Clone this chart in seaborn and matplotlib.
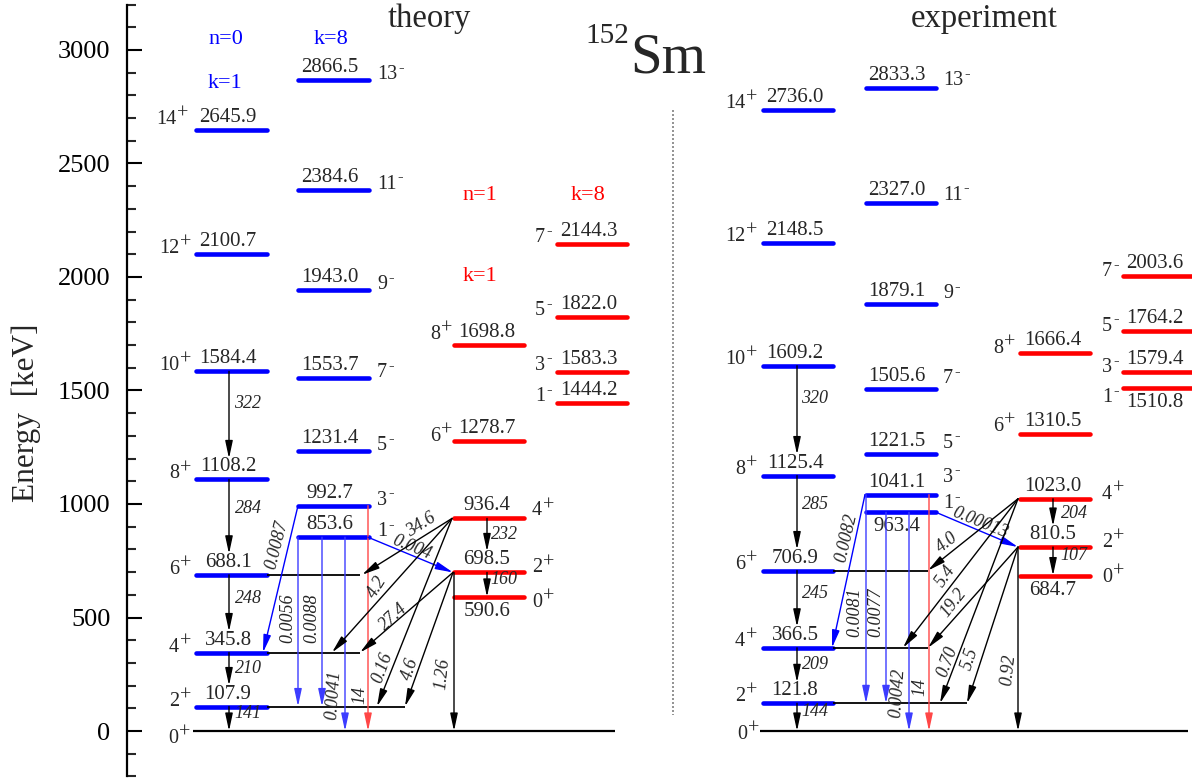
import numpy as np
import pandas as pd
import seaborn as sns
import matplotlib.pyplot as plt

# level energies [keV] and spins, theory
th_gsb = [107.9, 345.8, 688.1, 1108.2, 1584.4, 2100.7, 2645.9]
th_gsb_spin = ['2+', '4+', '6+', '8+', '10+', '12+', '14+']
th_k8 = [853.6, 992.7, 1231.4, 1553.7, 1943.0, 2384.6, 2866.5]
th_k8_spin = ['1-', '3-', '5-', '7-', '9-', '11-', '13-']
th_n1 = [590.6, 698.5, 936.4, 1278.7, 1698.8]
th_n1_spin = ['0+', '2+', '4+', '6+', '8+']
th_n1k8 = [1444.2, 1583.3, 1822.0, 2144.3]
th_n1k8_spin = ['1-', '3-', '5-', '7-']

# experiment
ex_gsb = [121.8, 366.5, 706.9, 1125.4, 1609.2, 2148.5, 2736.0]
ex_gsb_spin = th_gsb_spin
ex_k8 = [963.4, 1041.1, 1221.5, 1505.6, 1879.1, 2327.0, 2833.3]
ex_k8_spin = th_k8_spin
ex_n1 = [684.7, 810.5, 1023.0, 1310.5, 1666.4]
ex_n1_spin = th_n1_spin
ex_n1k8 = [1510.8, 1579.4, 1764.2, 2003.6]
ex_n1k8_spin = th_n1k8_spin

# in-band gamma energies (lowest first)
th_gsb_gamma = ['141', '210', '248', '284', '322']
ex_gsb_gamma = ['144', '209', '245', '285', '320']
th_n1_gamma = ['160', '232']
ex_n1_gamma = ['107', '204']

# inter-band transition strengths
th_blue = ['0.0087', '0.0056', '0.0088', '0.0041', '0.004']
th_red = ['14']
th_black = ['34.6', '4.2', '0.16', '27.4', '4.6', '1.26']
ex_blue = ['0.0082', '0.0081', '0.0077', '0.0042', '0.00013']
ex_red = ['14']
ex_black = ['4.0', '5.4', '0.70', '19.2', '5.5', '0.92']

# ---- layout (pixel based x axis, keV y axis) ----
PXK = 0.227     # pixels per keV
Y0 = 731        # pixel row of 0 keV


def ey(py):
    # pixel row -> keV (only for text placement)
    return (Y0 - py) / PXK


BLUE = '#0000ff'
RED = '#ff0000'
LB = '#3c3cff'
LR = '#ff4646'

sns.set_theme(style='white')
plt.rcParams['font.family'] = ['Liberation Serif', 'DejaVu Serif']

fig = plt.figure(figsize=(11.92, 7.82), dpi=100)
ax = fig.add_axes([0, 0, 1, 1])
ax.set_xlim(0, 1192)
ax.set_ylim(ey(782), ey(0))

# columns: energies, spins, x-range, colour, energy label centre,
# spin label (x of number edge, side, baseline shift px), levels labelled below
columns = [
    dict(E=th_gsb, J=th_gsb_spin, x=(196, 267), c=BLUE, ex=228,
         spin=[(179, 'right', 1)] * 6 + [(176, 'right', 6)], below=[]),
    dict(E=th_k8, J=th_k8_spin, x=(298, 369), c=BLUE, ex=330,
         spin=[(377, 'left', 1)] * 7, below=[]),
    dict(E=th_n1, J=th_n1_spin, x=(454, 524), c=RED, ex=487,
         spin=[(532, 'left', -10), (532, 'left', 0), (532, 'left', 3),
               (440, 'right', 0), (440, 'right', 6)], below=[0]),
    dict(E=th_n1k8, J=th_n1k8_spin, x=(557, 627), c=RED, ex=589,
         spin=[(545, 'right', 2)] * 4, below=[]),
    dict(E=ex_gsb, J=ex_gsb_spin, x=(763, 833), c=BLUE, ex=795,
         spin=[(745, 'right', 2)] * 7, below=[]),
    dict(E=ex_k8, J=ex_k8_spin, x=(866, 936), c=BLUE, ex=897,
         spin=[(943, 'left', 4), (943, 'left', 13), (943, 'left', 6),
               (943, 'left', 6), (943, 'left', 6), (943, 'left', 3),
               (943, 'left', 3)], below=[0]),
    dict(E=ex_n1, J=ex_n1_spin, x=(1020, 1090), c=RED, ex=1053,
         spin=[(1102, 'left', -6), (1102, 'left', 0), (1102, 'left', 0),
               (1003, 'right', 3), (1003, 'right', 0)], below=[0]),
    dict(E=ex_n1k8, J=ex_n1k8_spin, x=(1123, 1198), c=RED, ex=1155,
         spin=[(1112, 'right', -14)] + [(1112, 'right', 0)] * 3, below=[0]),
]

# level lines via seaborn
rows = []
for ci, col in enumerate(columns):
    for li, E in enumerate(col['E']):
        for xx in col['x']:
            rows.append(dict(x=xx, E=E, unit=f'{ci}_{li}', c=col['c']))
levels = pd.DataFrame(rows)
sns.lineplot(data=levels, x='x', y='E', units='unit', hue='c',
             palette={BLUE: BLUE, RED: RED}, estimator=None, sort=False,
             legend=False, linewidth=3.3, solid_capstyle='round', ax=ax)


def spin_label(J, x, E, ha, dy):
    num = ax.annotate(J[:-1], (x, E), xytext=(0, dy), textcoords='offset pixels',
                      ha=ha, va='baseline', fontsize=14.5)
    if J[-1] == '+':
        ax.annotate('+', xy=(1, 0.78), xycoords=num, xytext=(1, 0),
                    textcoords='offset pixels', ha='left', va='center', fontsize=14.5)
    else:
        ax.annotate('-', xy=(1, 0.85), xycoords=num, xytext=(1, 0),
                    textcoords='offset pixels', ha='left', va='center', fontsize=12)


for col in columns:
    for li, (E, J) in enumerate(zip(col['E'], col['J'])):
        dy = -19 if li in col['below'] else 8
        ax.annotate(f'{E:.1f}', (col['ex'], E), xytext=(0, dy),
                    textcoords='offset pixels', ha='center',
                    va='baseline', fontsize=15)
        sx, ha, sdy = col['spin'][li]
        spin_label(J, sx, E, ha, sdy)

# ground states and horizontal feeding lines
ax.hlines(0, 193, 615, color='black', lw=1.6)
ax.hlines(0, 760, 1188, color='black', lw=1.6)
spin_label('0+', 178, 0, 'right', -12)
spin_label('0+', 747, 0, 'right', -8)
ax.hlines([th_gsb[2], th_gsb[1], th_gsb[0]], 267, [360, 360, 405], color='black', lw=1.3)
ax.hlines([ex_gsb[2], ex_gsb[1], ex_gsb[0]], 833, [928, 928, 967], color='black', lw=1.3)


def arrow(x0, e0, x1, e1, color='black', lw=1.0):
    ax.annotate('', xy=(x1, e1), xytext=(x0, e0),
                arrowprops=dict(arrowstyle='-|>,head_length=0.7,head_width=0.15',
                                color=color, lw=lw, shrinkA=0, shrinkB=0,
                                mutation_scale=15))


def tlabel(px, py, s, rot=0, size=13):
    ax.text(px, ey(py), s, rotation=rot, rotation_mode='anchor', ha='center',
            va='center', fontsize=size, style='italic')


# in-band cascades; arrow stops above the energy label of the lower level
GAP = 21 / PXK
for E_list, gam, xa, dxl in [(th_gsb, th_gsb_gamma, 229, 19), (ex_gsb, ex_gsb_gamma, 797, 18)]:
    lower = [0] + E_list[:len(gam) - 1]
    for hi, lo, g in zip(E_list[:len(gam)], lower, gam):
        arrow(xa, hi, xa, lo + (GAP if lo > 0 else 0))
        ax.text(xa + dxl, lo + 0.7 * (hi - lo), g, ha='center', va='center',
                fontsize=13, style='italic')
for E_list, gam, xa, dxl in [(th_n1, th_n1_gamma, 487, 17), (ex_n1, ex_n1_gamma, 1053, 21)]:
    for k, (hi, lo, g) in enumerate(zip(E_list[1:3], E_list[0:2], gam)):
        arrow(xa, hi, xa, lo + (GAP if k > 0 else 0))
        ax.text(xa + dxl, lo + 0.7 * (hi - lo), g, ha='center', va='center',
                fontsize=13, style='italic')

# theory inter-band transitions
th_links = [
    (298, th_k8[1], 263, th_gsb[1], BLUE, th_blue[0], (277, 545), 76),
    (298, th_k8[0], 298, th_gsb[0], LB, th_blue[1], (288, 618), 90),
    (322, th_k8[0], 322, th_gsb[0], LB, th_blue[2], (312, 618), 90),
    (345, th_k8[0], 345, 0, LB, th_blue[3], (334, 695), 86),
    (368, th_k8[1], 368, 0, LR, th_red[0], (360, 695), 90),
    (368, th_k8[0], 453, th_n1[1], BLUE, th_blue[4], (412, 547), -22),
    (452, th_n1[2], 362, th_gsb[2], 'black', th_black[0], (421, 525), 32),
    (452, th_n1[2], 332, th_gsb[1], 'black', th_black[1], (377, 587), 58),
    (452, th_n1[2], 377, th_gsb[0], 'black', th_black[2], (382, 668), 70),
    (453, th_n1[1], 360, th_gsb[1], 'black', th_black[3], (393, 617), 43),
    (453, th_n1[1], 405, th_gsb[0], 'black', th_black[4], (410, 669), 72),
    (454, th_n1[1], 454, 0, 'black', th_black[5], (443, 674), 84),
]
ex_links = [
    (865, ex_k8[1], 832, ex_gsb[1], BLUE, ex_blue[0], (846, 538), 77),
    (866, ex_k8[1], 866, ex_gsb[0], LB, ex_blue[1], (855, 612), 90),
    (886, ex_k8[0], 886, ex_gsb[0], LB, ex_blue[2], (876, 612), 90),
    (909, ex_k8[0], 909, 0, LB, ex_blue[3], (898, 693), 86),
    (929, ex_k8[1], 929, 0, LR, ex_red[0], (920, 687), 90),
    (936, ex_k8[0], 1018, ex_n1[1], BLUE, ex_blue[4], (980, 523), -22),
    (1018, ex_n1[2], 928, ex_gsb[2], 'black', ex_black[0], (947, 543), 38),
    (1018, ex_n1[2], 903, ex_gsb[1], 'black', ex_black[1], (945, 576), 55),
    (1018, ex_n1[2], 940, ex_gsb[0], 'black', ex_black[2], (947, 662), 70),
    (1018, ex_n1[1], 928, ex_gsb[1], 'black', ex_black[3], (954, 603), 52),
    (1018, ex_n1[1], 967, ex_gsb[0], 'black', ex_black[4], (970, 659), 72),
    (1018, ex_n1[1], 1018, 0, 'black', ex_black[5], (1008, 670), 84),
]
for x0, e0, x1, e1, c, s, (px, py), rot in th_links + ex_links:
    arrow(x0, e0, x1, e1, color=c)
    tlabel(px, py, s, rot)

# band headers and titles
ax.text(226, ey(40), 'n=0', color=BLUE, ha='center', va='center', fontsize=16)
ax.text(225, ey(83), 'k=1', color=BLUE, ha='center', va='center', fontsize=16)
ax.text(331, ey(40), 'k=8', color=BLUE, ha='center', va='center', fontsize=16)
ax.text(480, ey(195), 'n=1', color=RED, ha='center', va='center', fontsize=16)
ax.text(480, ey(277), 'k=1', color=RED, ha='center', va='center', fontsize=16)
ax.text(588, ey(196), 'k=8', color=RED, ha='center', va='center', fontsize=16)
ax.text(429, ey(27), 'theory', ha='center', va='baseline', fontsize=23.5)
ax.text(984, ey(27), 'experiment', ha='center', va='baseline', fontsize=23.5)
ax.text(630, ey(73), 'Sm', ha='left', va='baseline', fontsize=41)
ax.text(629, ey(43), '152', ha='right', va='baseline', fontsize=21)
ax.plot([673, 673], [ey(110), ey(715)], color='#808080', ls=(0, (1.2, 1.2)), lw=1.2)

# energy axis
for side in ['top', 'right', 'bottom']:
    ax.spines[side].set_visible(False)
ax.spines['left'].set_position(('data', 127))
ax.spines['left'].set_bounds(-200, 3200)
ax.spines['left'].set_linewidth(1.6)
ax.spines['left'].set_color('black')
ax.set_yticks(np.arange(0, 3001, 500))
ax.set_yticks(np.arange(-200, 3201, 100), minor=True)
ax.tick_params(axis='y', which='major', direction='in', length=11, width=1.5,
               labelsize=19, pad=12, left=True, colors='black')
ax.tick_params(axis='y', which='minor', direction='in', length=6.5, width=1.5, left=True)
ax.set_xticks([])
ax.set_xlabel('')
ax.set_ylabel('')
ax.text(26, ey(413), 'Energy  [keV]', rotation=90, ha='center', va='center', fontsize=22.5)

fig.savefig('out.png', dpi=100)
